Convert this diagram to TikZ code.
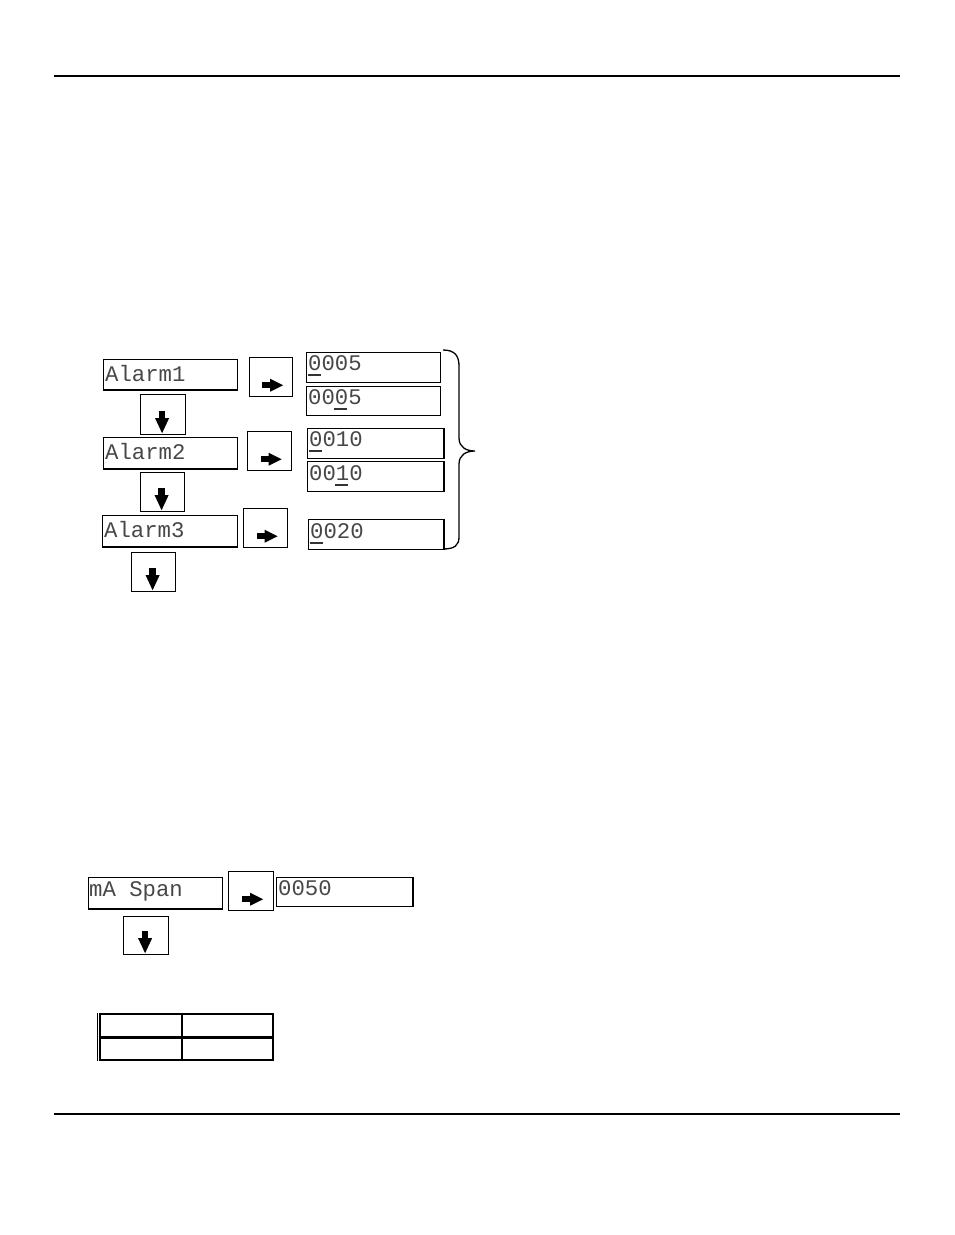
\documentclass[tikz,border=0pt]{standalone}
\usepackage{fontspec}
\newfontfamily\lcdfont{Liberation Mono}
\begin{document}
\begin{tikzpicture}[x=1pt,y=-1pt,
  box/.style={draw, line width=1.2pt, inner sep=0pt, anchor=north west},
  lcd/.style={inner sep=0pt, anchor=base west, text=black!72, font=\lcdfont\fontsize{22.3}{24}\selectfont},
  uline/.style={line width=1.5pt, black!80},
  rarrow/.pic={\fill (-10,-3.2) rectangle (-1,3.2); \fill (-2,-6.5) -- (11,0) -- (-2,6.5) -- cycle;},
  darrow/.pic={\fill (-3.2,-24) rectangle (3.2,-16); \fill (-7,-17) -- (0,-2) -- (7,-17) -- cycle;}
]
\useasboundingbox (0,0) rectangle (954,1235);
% rules
\draw[line width=1.5pt] (54,76) -- (900,76);
\draw[line width=2pt] (54,1114) -- (900,1114);

% Alarm column
\node[box, minimum width=134pt, minimum height=30pt] (alarm1) at (103,359) {};
\node[box, minimum width=43pt, minimum height=39pt] (arr1) at (249,357) {};
\node[box, minimum width=45pt, minimum height=40pt] (dn1) at (140,394) {};
\node[box, minimum width=134pt, minimum height=31pt] (alarm2) at (103,437) {};
\node[box, minimum width=44pt, minimum height=39pt] (arr2) at (247,431) {};
\node[box, minimum width=44pt, minimum height=39pt] (dn2) at (140,472) {};
\node[box, minimum width=135pt, minimum height=31pt] (alarm3) at (102,515) {};
\node[box, minimum width=44pt, minimum height=39pt] (arr3) at (243,508) {};
\node[box, minimum width=44pt, minimum height=39pt] (dn3) at (131,552) {};

\draw[line width=1.6pt] (alarm1.south west) -- (alarm1.south east);
\draw[line width=1.6pt] (alarm2.south west) -- (alarm2.south east);
\draw[line width=1.6pt] (alarm3.south west) -- (alarm3.south east);

\node[lcd] (ta1) at (105,381) {Alarm1};
\node[lcd] (ta2) at (105,459) {Alarm2};
\node[lcd] (ta3) at (104,537) {Alarm3};

\pic at ([xshift=1pt,yshift=12pt]arr1.south) {rarrow};
\pic at ([xshift=1pt,yshift=12pt]arr2.south) {rarrow};
\pic at ([xshift=1pt,yshift=12pt]arr3.south) {rarrow};
\pic at ([xshift=-1pt]dn1.south) {darrow};
\pic at ([xshift=-1pt]dn2.south) {darrow};
\pic at ([xshift=-1pt]dn3.south) {darrow};

% value boxes
\node[box, minimum width=134pt, minimum height=30pt] (v1) at (306,352) {};
\node[box, minimum width=134pt, minimum height=29pt] (v2) at (306,386) {};
\node[box, minimum width=136pt, minimum height=30pt] (v3) at (307,428) {};
\node[box, minimum width=136pt, minimum height=30pt] (v4) at (307,461) {};
\node[box, minimum width=135pt, minimum height=30pt] (v5) at (308,519) {};
\draw[line width=2pt] (v3.north east) -- (v3.south east);
\draw[line width=2pt] (v4.north east) -- (v4.south east);
\draw[line width=2pt] (v5.north east) -- (v5.south east);

\node[lcd] (tv1) at (308,370) {0005};
\node[lcd] (tv2) at (308,404) {0005};
\node[lcd] (tv3) at (309,446) {0010};
\node[lcd] (tv4) at (309,480) {0010};
\node[lcd] (tv5) at (310,538) {0020};

\draw[uline] (308,375) -- (321,375);
\draw[uline] (334,409) -- (347,409);
\draw[uline] (309,451) -- (322,451);
\draw[uline] (335,485) -- (348,485);
\draw[uline] (310,543) -- (323,543);

% brace
\draw[line width=1.3pt] (443,350) .. controls (455,350) and (459,356) .. (459,366)
  -- (459,438) .. controls (459,447) and (466,451) .. (475,451)
  .. controls (466,451) and (459,455) .. (459,464)
  -- (459,537) .. controls (459,545) and (455,549) .. (443,549);

% mA Span
\node[box, minimum width=134pt, minimum height=31pt] (span) at (88,877) {};
\node[box, minimum width=45pt, minimum height=39pt] (arr4) at (228,871) {};
\node[box, minimum width=136pt, minimum height=29pt] (v6) at (276,877) {};
\node[box, minimum width=45pt, minimum height=38pt] (dn4) at (123,916) {};
\draw[line width=2pt] (v6.north east) -- (v6.south east);
\draw[line width=1.6pt] (span.south west) -- (span.south east);
\node[lcd] (tspan) at (89,896) {mA Span};
\node[lcd] (tv6) at (278,895) {0050};
\pic at ([xshift=1pt,yshift=12pt]arr4.south) {rarrow};
\pic at ([xshift=-1pt]dn4.south) {darrow};

% table
\draw[line width=2pt] (99.5,1014) rectangle (273,1060);
\draw[line width=1pt] (97.5,1013) -- (97.5,1061);
\draw[line width=3pt] (99.5,1037) -- (273,1037);
\draw[line width=1.2pt] (182,1014) -- (182,1060);
\end{tikzpicture}
\end{document}
